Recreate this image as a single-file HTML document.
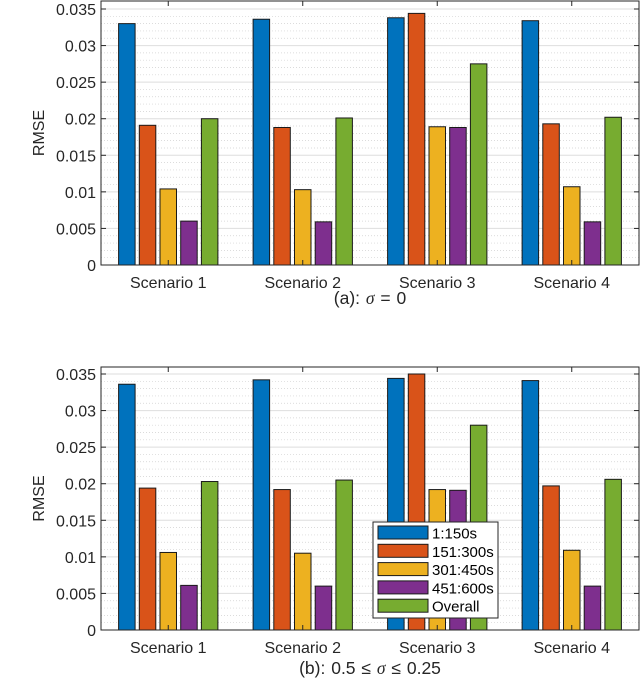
<!DOCTYPE html>
<html><head><meta charset="utf-8">
<style>
body{margin:0;background:#fff;}
svg{display:block;font-family:"Liberation Sans",sans-serif;}
</style></head>
<body>
<svg id="c" width="640" height="680" xmlns="http://www.w3.org/2000/svg"></svg>
<script>
const categories=["Scenario 1","Scenario 2","Scenario 3","Scenario 4"];
const seriesNames=["1:150s","151:300s","301:450s","451:600s","Overall"];
const colors=["#0072BD","#D95319","#EDB120","#7E2F8E","#77AC30"];
const valuesA=[
 [0.0330,0.0336,0.0338,0.0334],
 [0.0191,0.0188,0.0344,0.0193],
 [0.0104,0.0103,0.0189,0.0107],
 [0.0060,0.0059,0.0188,0.0059],
 [0.0200,0.0201,0.0275,0.0202]];
const valuesB=[
 [0.0336,0.0342,0.0344,0.0341],
 [0.0194,0.0192,0.0350,0.0197],
 [0.0106,0.0105,0.0192,0.0109],
 [0.0061,0.0060,0.0191,0.0060],
 [0.0203,0.0205,0.0280,0.0206]];
const yTicks=[0,0.005,0.01,0.015,0.02,0.025,0.03,0.035];
const yTickLabels=["0","0.005","0.01","0.015","0.02","0.025","0.03","0.035"];
const captions=[["(a): ","\u03c3"," = 0"],["(b): 0.5 \u2264 ","\u03c3"," \u2264 0.25"]];

const svg=document.getElementById('c');
const NS="http://www.w3.org/2000/svg";
function mk(t,a,p){const e=document.createElementNS(NS,t);for(const k in a)e.setAttribute(k,a[k]);(p||svg).appendChild(e);return e;}

function panel(vals,top,zeroY,cap,capY,id){
 const g=mk('g',{});
 
 
 const L=101,R=639,scale=256/0.035;
 const y=v=>zeroY-v*scale;
 const x=i=>L+(i+0.5)*(R-L)/4;
 for(let k=1;k<36;k++){ if(k%5===0)continue; const yy=y(k*0.001); if(yy<top)continue;
  mk('line',{x1:L,x2:R,y1:yy,y2:yy,stroke:'#d0d0d0','stroke-width':0.7,'stroke-dasharray':'1,2'},g);}
 yTicks.forEach((t,i)=>{const yy=y(t);
  if(t>0) mk('line',{x1:L,x2:R,y1:yy,y2:yy,stroke:'#dedede','stroke-width':1},g);
  mk('line',{x1:L,x2:L+5,y1:yy,y2:yy,stroke:'#262626'},g);
  mk('line',{x1:R-5,x2:R,y1:yy,y2:yy,stroke:'#262626'},g);
  const tx=mk('text',{x:L-5,y:yy+6,'text-anchor':'end','font-size':16,fill:'#262626'},g);
  
  
  tx.textContent=yTickLabels[i];});
 const bw=16.5,step=20.7;
 categories.forEach((c,ci)=>{
  vals.forEach((s,si)=>{
   const bx=x(ci)+(si-2)*step-bw/2;
   const r=mk('rect',{x:bx,y:y(s[ci]),width:bw,height:zeroY-y(s[ci]),fill:colors[si],stroke:'#1a1a1a','stroke-width':1},g);
   
   
  });
  mk('line',{x1:x(ci),x2:x(ci),y1:zeroY,y2:zeroY-5,stroke:'#262626'},g);
  mk('line',{x1:x(ci),x2:x(ci),y1:top,y2:top+5,stroke:'#262626'},g);
  const t=mk('text',{x:x(ci),y:zeroY+23,'text-anchor':'middle','font-size':16,fill:'#262626'},g);
  
  
  t.textContent=c;
 });
 mk('rect',{x:L,y:top,width:R-L,height:zeroY-top,fill:'none',stroke:'#262626','stroke-width':1},g);
 const yl=mk('text',{transform:`translate(44,${(top+zeroY)/2}) rotate(-90)`,'text-anchor':'middle','font-size':16,fill:'#262626'},g);
 
 
 yl.textContent='RMSE';
 const ct=mk('text',{x:370,y:capY,'text-anchor':'middle','font-size':17.5,fill:'#262626','word-spacing':'1px'},g);
 
 
 cap.forEach((p,pi)=>{const s=mk('tspan',pi===1?{'font-style':'italic','font-family':'"Liberation Serif",serif'}:{},ct);s.textContent=p;});
}
panel(valuesA,1,265,captions[0],304,'a');
panel(valuesB,367,630,captions[1],674,'b');

const lg=mk('g',{});


mk('rect',{x:373,y:522,width:125,height:96,fill:'#fff',stroke:'#262626','stroke-width':1},lg);
seriesNames.forEach((n,i)=>{
 const yy=526+i*18.3;
 const r=mk('rect',{x:378,y:yy,width:50,height:13,fill:colors[i],stroke:'#1a1a1a'},lg);
 
 
 const t=mk('text',{x:432,y:yy+12.5,'font-size':15,fill:'#000'},lg);
 
 
 t.textContent=n;
});
</script>
</body></html>
